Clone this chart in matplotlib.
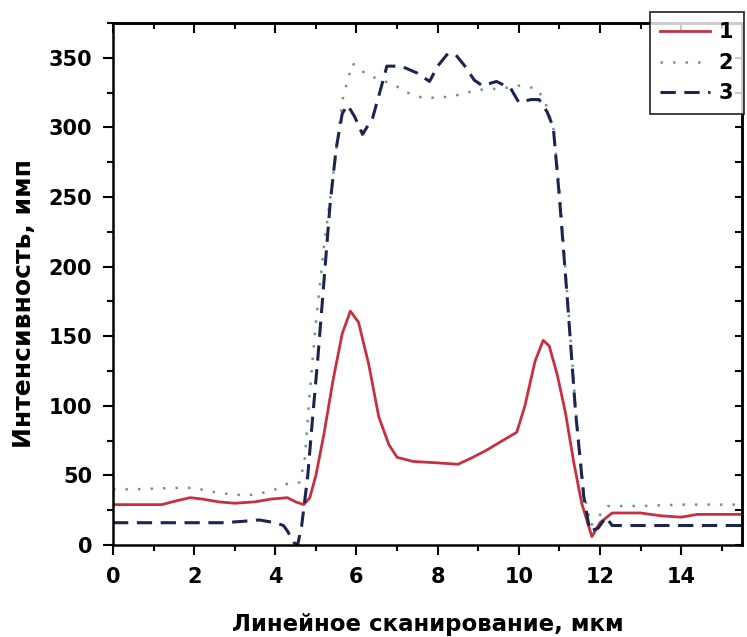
import matplotlib
matplotlib.use('Agg')
import matplotlib.pyplot as plt
from matplotlib.ticker import MultipleLocator

plt.rcParams['font.family'] = ['DejaVu Sans']
plt.rcParams['font.weight'] = 'bold'

# кривая 1
x1 = [0, 0.5, 1.2, 1.6, 1.9, 2.2, 2.6, 3.0, 3.5, 3.9, 4.3, 4.5, 4.7, 4.85, 5.0, 5.2, 5.42,
      5.65, 5.85, 6.05, 6.3, 6.55, 6.8, 7.0, 7.4, 8.0, 8.5, 8.8, 9.2, 9.6, 9.95, 10.15,
      10.4, 10.6, 10.75, 10.95, 11.15, 11.35, 11.55, 11.8, 12.0, 12.3, 13.0, 13.5, 14.0,
      14.4, 15.5]
y1 = [29, 29, 29, 32, 34, 33, 31, 30, 31, 33, 34, 31, 29, 34, 50, 80, 118,
      152, 168, 160, 130, 92, 72, 63, 60, 59, 58, 62, 68, 75, 81, 100,
      132, 147, 143, 122, 95, 60, 30, 6, 16, 23, 23, 21, 20,
      22, 22]

# кривая 2
x2 = [0, 0.5, 1.5, 2.0, 2.5, 3.0, 3.5, 4.0, 4.3, 4.6, 4.72, 4.85, 5.0, 5.2, 5.4, 5.55,
      5.67, 5.9, 6.25, 6.6, 6.9, 7.25, 7.65, 8.3, 8.6, 9.0, 9.6, 10.0, 10.45, 10.65,
      10.85, 11.0, 11.2, 11.4, 11.6, 11.78, 11.95, 12.2, 13.0, 14.0, 15.5]
y2 = [40, 40, 41, 41, 38, 36, 36, 40, 44, 45, 60, 110, 160, 215, 260, 295,
      322, 346, 338, 334, 331, 325, 321, 322, 324, 327, 328, 330, 328, 318,
      300, 255, 178, 98, 38, 14, 20, 28, 28, 29, 29]

# кривая 3
x3 = [0, 1.0, 2.0, 2.7, 3.2, 3.6, 4.0, 4.2, 4.3, 4.45, 4.55, 4.65, 4.8, 4.9, 5.05, 5.2,
      5.35, 5.5, 5.65, 5.78, 5.95, 6.15, 6.4, 6.6, 6.75, 7.1, 7.5, 7.8, 8.0, 8.25, 8.45,
      8.7, 8.9, 9.1, 9.45, 9.8, 10.0, 10.3, 10.5, 10.7, 10.85, 11.0, 11.2, 11.4, 11.6,
      11.75, 11.95, 12.15, 12.3, 13.0, 14.0, 15.5]
y3 = [16, 16, 16, 16, 17, 18, 16, 14, 10, 2, 0, 14, 50, 85, 135, 190,
      245, 285, 310, 316, 308, 295, 307, 328, 344, 344, 339, 333, 344, 353, 352,
      343, 334, 330, 333, 328, 318, 320, 320, 311, 300, 250, 175, 95, 35,
      10, 12, 20, 14, 14, 14, 14]

labels = ['1', '2', '3']

fig = plt.figure(figsize=(7.47, 6.37), dpi=100)
ax = fig.add_axes([113 / 747, 1 - 545 / 637, (742 - 113) / 747, (545 - 23) / 637])

ax.plot(x1, y1, color='#c83040', lw=2.0, label=labels[0])
ax.plot(x2, y2, color='#6f9a80', lw=1.8, ls=(0, (1, 4)), label=labels[1])
ax.plot(x3, y3, color='#1c2450', lw=2.2, ls=(0, (5, 2.8)), label=labels[2])

ax.set_xlim(0, 15.5)
ax.set_ylim(0, 375)

ax.xaxis.set_major_locator(MultipleLocator(2))
ax.xaxis.set_minor_locator(MultipleLocator(1))
ax.yaxis.set_major_locator(MultipleLocator(50))
ax.yaxis.set_minor_locator(MultipleLocator(25))
ax.tick_params(which='both', direction='out', width=1.5, labelsize=15, top=False, right=False)
ax.tick_params(which='major', length=7)
ax.tick_params(which='minor', length=4)
ax.tick_params(axis='x', pad=9)
ax.tick_params(axis='y', pad=8)
for s in ax.spines.values():
    s.set_linewidth(1.8)

# верх и право — засечки внутрь
top = ax.secondary_xaxis('top')
top.xaxis.set_major_locator(MultipleLocator(2))
top.xaxis.set_minor_locator(MultipleLocator(1))
top.tick_params(which='both', direction='in', width=1.5, labeltop=False)
top.tick_params(which='major', length=7)
top.tick_params(which='minor', length=4)
right = ax.secondary_yaxis('right')
right.yaxis.set_major_locator(MultipleLocator(25))
right.tick_params(which='both', direction='in', width=1.5, length=5, labelright=False)
top.spines['top'].set_linewidth(1.8)
right.spines['right'].set_linewidth(1.8)

ax.set_xlabel('Линейное сканирование, мкм', fontsize=16.5, fontweight='bold')
ax.set_ylabel('Интенсивность, имп', fontsize=18, fontweight='bold')
ax.xaxis.set_label_coords(0.5, (545 - 613) / 522)
ax.yaxis.set_label_coords((36 - 113) / 629, (545 - 303) / 522)

leg = fig.legend(loc='upper left', bbox_to_anchor=(650 / 747, 1 - 12 / 637), fontsize=15,
                 frameon=True, fancybox=False, edgecolor='black', handlelength=2.4,
                 labelspacing=0.5, borderpad=0.5, handletextpad=0.4, borderaxespad=0)
leg.get_frame().set_linewidth(1.3)

fig.savefig('out.png', dpi=100)
